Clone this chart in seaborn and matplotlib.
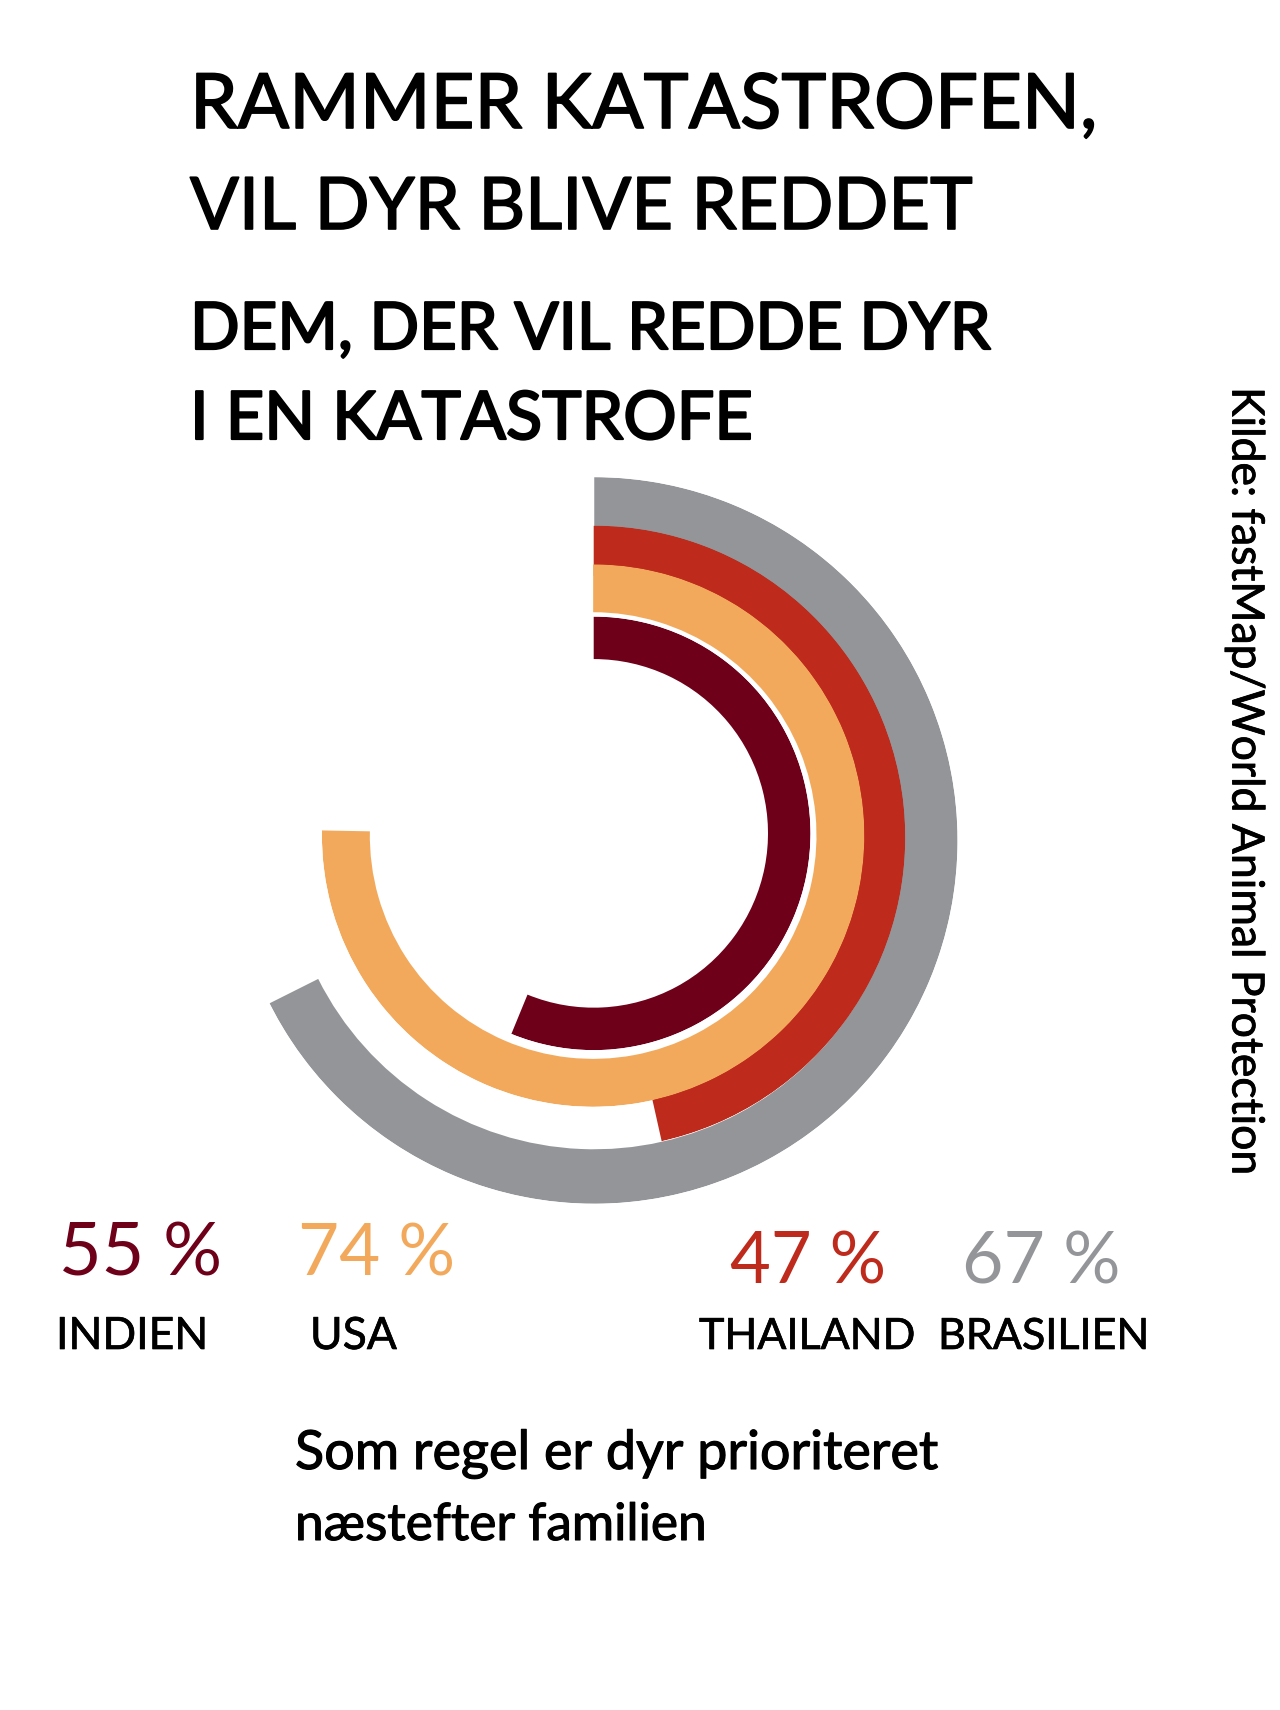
import numpy as np
import matplotlib
matplotlib.use("Agg")
import matplotlib.pyplot as plt
import matplotlib.patheffects as pe
import seaborn as sns

title_lines = ["RAMMER KATASTROFEN,", "VIL DYR BLIVE REDDET"]
subtitle_lines = ["DEM, DER VIL REDDE DYR", "I EN KATASTROFE"]
countries = ["BRASILIEN", "THAILAND", "USA", "INDIEN"]
percent_labels = [67, 47, 74, 55]
# arc lengths as actually drawn in the picture (share of a full circle, %)
arc_share = [67.6, 46.5, 75.3, 56.2]
colors = ["#939598", "#BE2A1B", "#F2A95C", "#6E0019"]
note_lines = ["Som regel er dyr prioriteret", "næstefter familien"]
source = "Kilde: fastMap/World Animal Protection"

sns.set_theme(style="white")
plt.rcParams["font.family"] = ["Lato", "DejaVu Sans"]

W, H = 1280, 1710
K = 1280 / 1175  # measured positions below are on a 1175 px wide grid
fig = plt.figure(figsize=(W / 100, H / 100), dpi=100, facecolor="white")


def put(x, y, s, size, stroke=0.0, **kw):
    kw.setdefault("color", "black")
    kw.setdefault("va", "baseline")
    kw.setdefault("ha", "left")
    t = fig.text(x / W, 1 - y / H, s, fontsize=size, **kw)
    if stroke:
        t.set_path_effects([pe.withStroke(linewidth=stroke, foreground=kw["color"])])
    return t


# ring chart: each ring sits on its own polar axes, as the rings are not quite concentric
ring_cx = [545.5, 545, 544.5, 545]
ring_cy = [771.5, 768.5, 767, 765]
ring_in = [283.5, 240, 205, 160]
ring_out = [333.5, 286, 249, 199]
for share, col, x0, y0, r0, r1 in zip(arc_share, colors, ring_cx, ring_cy, ring_in, ring_out):
    cx, cy, R = x0 * K, y0 * K, r1 * K
    ax = fig.add_axes([(cx - R) / W, 1 - (cy + R) / H, 2 * R / W, 2 * R / H], projection="polar")
    ax.set_theta_zero_location("N")
    ax.set_theta_direction(-1)
    ax.set_ylim(0, r1)
    ax.barh(r0, np.deg2rad(share * 3.6), left=0, height=r1 - r0, align="edge", color=col, linewidth=0)
    ax.axis("off")
    ax.patch.set_alpha(0)

# headings
put(190, 128, title_lines[0], 54.8, stroke=1.2)
put(190, 229, title_lines[1], 52, stroke=1.2)
put(190, 349, subtitle_lines[0], 47, stroke=1.6)
put(190, 439, subtitle_lines[1], 48, stroke=1.6)

# value labels
px = {"INDIEN": 59, "USA": 298, "THAILAND": 730, "BRASILIEN": 962}
py = {"INDIEN": 1275, "USA": 1275, "THAILAND": 1283, "BRASILIEN": 1283}
lx = {"INDIEN": 56, "USA": 310, "THAILAND": 699, "BRASILIEN": 938}
psize = {"INDIEN": 53, "USA": 51, "THAILAND": 50.8, "BRASILIEN": 51.5}
for name, pct, col in zip(countries, percent_labels, colors):
    put(px[name], py[name], f"{pct} %", psize[name], color=col)
    put(lx[name], 1349, name, 32 if name in ("INDIEN", "USA") else 31, stroke=0.5)

# note
put(295, 1469, note_lines[0], 38.8, stroke=0.8)
put(295, 1540, note_lines[1], 37, stroke=0.8)

# source
put(1245, 387, source, 32, stroke=0.6, rotation=-90, va="top", ha="center")

fig.savefig("out.png", dpi=100, facecolor="white")
